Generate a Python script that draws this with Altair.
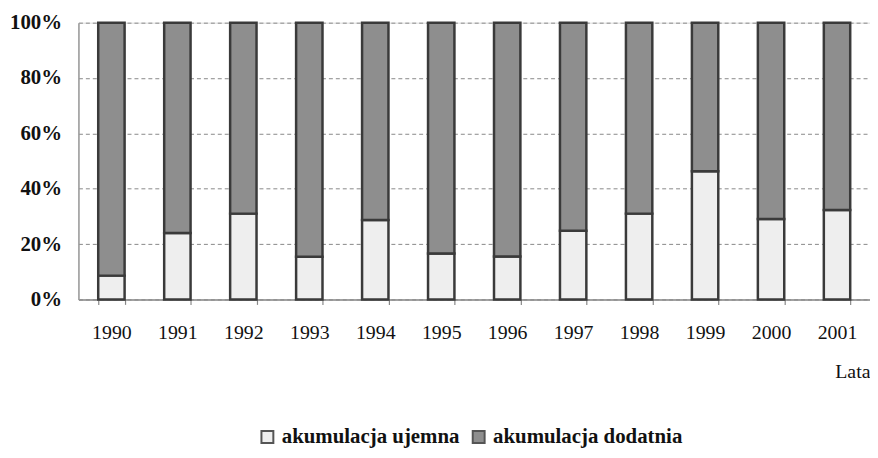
import altair as alt
import pandas as pd

years = ["1990", "1991", "1992", "1993", "1994", "1995", "1996", "1997", "1998", "1999", "2000", "2001"]
ujemna = [8.6, 24.0, 31.0, 15.4, 28.7, 16.6, 15.5, 24.8, 31.0, 46.3, 29.1, 32.3]
dodatnia = [91.4, 76.0, 69.0, 84.6, 71.3, 83.4, 84.5, 75.2, 69.0, 53.7, 70.9, 67.7]
series = ["akumulacja ujemna", "akumulacja dodatnia"]

rows = []
for y, u, d in zip(years, ujemna, dodatnia):
    rows.append({"rok": y, "seria": series[0], "wartosc": u / 100, "kolejnosc": 0})
    rows.append({"rok": y, "seria": series[1], "wartosc": d / 100, "kolejnosc": 1})
df = pd.DataFrame(rows)

FONT = "Liberation Serif"

chart = alt.Chart(df).mark_bar(
    stroke="#3a3a3a", strokeWidth=2.5
).encode(
    x=alt.X(
        "rok:N",
        sort=years,
        scale=alt.Scale(paddingInner=0.6, paddingOuter=0.3),
        axis=alt.Axis(
            title="Lata",
            titleFont=FONT, titleFontSize=20, titleFontWeight="normal", titleColor="#111",
            titleAnchor="end", titleAlign="right", titleBaseline="middle",
            titleX=798, titleY=73,
            labelFont=FONT, labelFontSize=20, labelColor="#111", labelAngle=0,
            labelPadding=18, tickBand="extent",
            ticks=True, tickSize=5, tickColor="#888", tickWidth=1.2,
            domainColor="#888", domainWidth=1.5,
            grid=False,
        ),
    ),
    y=alt.Y(
        "wartosc:Q",
        stack="zero",
        scale=alt.Scale(domain=[0, 1], nice=False),
        axis=alt.Axis(
            title=None, format=".0%", values=[0, 0.2, 0.4, 0.6, 0.8, 1.0],
            labelFont=FONT, labelFontSize=21, labelFontWeight="bold", labelColor="#111",
            labelPadding=17, ticks=False,
            domainColor="#999", domainWidth=1.5,
            grid=True, gridColor="#888", gridDash=[4, 3], gridWidth=1,
        ),
    ),
    color=alt.Color(
        "seria:N",
        scale=alt.Scale(domain=series, range=["#eeeeee", "#8e8e8e"]),
        legend=alt.Legend(
            title=None, orient="none", direction="horizontal",
            legendX=173, legendY=400,
            symbolType="square", symbolSize=144, symbolStrokeColor="#555",
            symbolStrokeWidth=2, symbolOpacity=1,
            labelFont=FONT, labelFontSize=21, labelFontWeight="bold", labelColor="#111",
            labelLimit=400, columnPadding=8, labelOffset=4,
            padding=7,
        ),
    ),
    order=alt.Order("kolejnosc:Q"),
).properties(
    width=798, height=279,
    autosize=alt.AutoSizeParams(type="none"),
    padding={"left": 71, "top": 13, "right": 0, "bottom": 150},
).configure_view(
    stroke=None
).configure_legend(
    strokeColor="#777", strokeDash=[2, 4]
).configure(background="white")

chart.save("out.html", embed_options={"renderer": "svg", "actions": False})
